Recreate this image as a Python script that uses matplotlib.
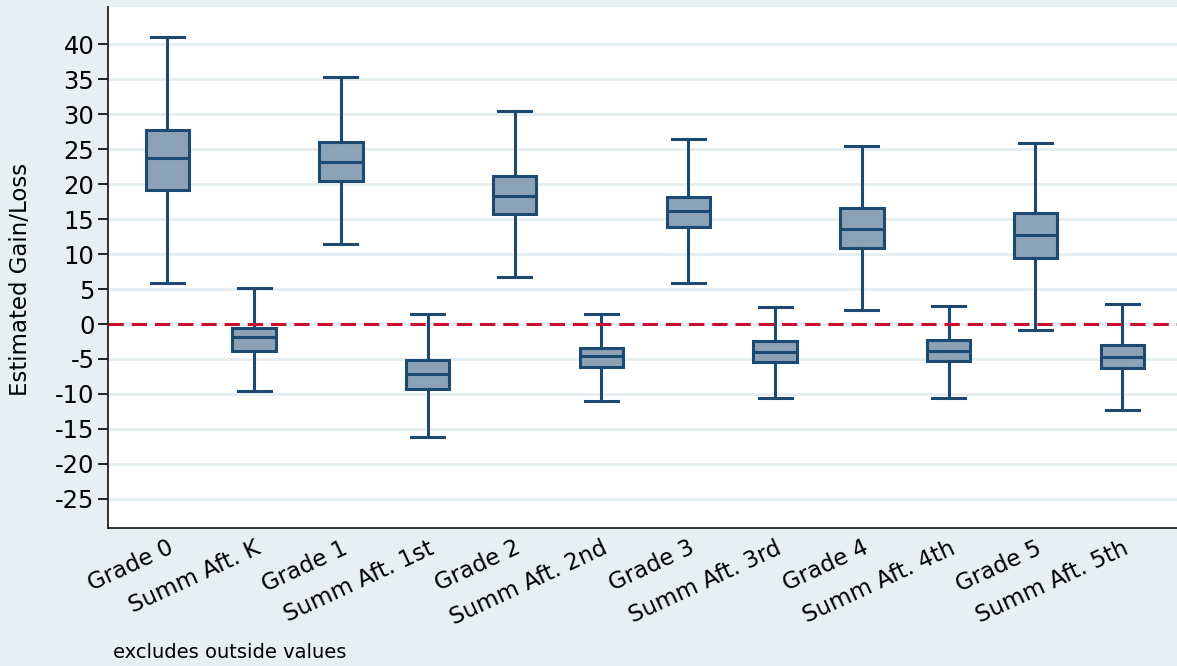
import matplotlib
matplotlib.use("Agg")
import matplotlib.pyplot as plt
import numpy as np

# box plot summaries (whiskers exclude outside values)
labels = ["Grade 0", "Summ Aft. K", "Grade 1", "Summ Aft. 1st", "Grade 2", "Summ Aft. 2nd",
          "Grade 3", "Summ Aft. 3rd", "Grade 4", "Summ Aft. 4th", "Grade 5", "Summ Aft. 5th"]
whis_lo = [5.9, -9.6, 11.5, -16.1, 6.7, -11.0, 5.9, -10.6, 2.0, -10.6, -0.8, -12.3]
q1 = [19.2, -3.9, 20.4, -9.3, 15.8, -6.2, 13.9, -5.4, 10.9, -5.3, 9.4, -6.3]
med = [23.7, -1.9, 23.2, -7.2, 18.3, -4.6, 16.2, -4.0, 13.6, -3.8, 12.7, -4.7]
q3 = [27.8, -0.6, 26.1, -5.2, 21.2, -3.4, 18.2, -2.4, 16.6, -2.3, 15.9, -3.0]
whis_hi = [41.0, 5.2, 35.3, 1.5, 30.5, 1.5, 26.4, 2.5, 25.4, 2.6, 25.9, 2.9]
y_ticks = list(range(-25, 45, 5))

plt.rcParams['font.family'] = ['DejaVu Sans']
plt.rcParams['axes.unicode_minus'] = False

navy = '#1c4a72'
bg = '#e8eff2'

stats = []
for i in range(len(labels)):
    stats.append({'label': labels[i], 'whislo': whis_lo[i], 'q1': q1[i], 'med': med[i],
                  'q3': q3[i], 'whishi': whis_hi[i], 'fliers': []})

fig = plt.figure(figsize=(11.77, 6.66), dpi=100, facecolor=bg)
ax = fig.add_axes([0.092, 0.207, 0.908, 0.783])
ax.set_facecolor('white')

pos = np.arange(len(labels))
ax.bxp(stats, positions=pos, widths=0.5, patch_artist=True, showfliers=False,
       boxprops=dict(facecolor='#8ba2b7', edgecolor=navy, linewidth=2.2),
       medianprops=dict(color=navy, linewidth=2.2),
       whiskerprops=dict(color=navy, linewidth=2.2),
       capprops=dict(color=navy, linewidth=2.2), capwidths=0.38, zorder=3)

ax.axhline(0, color='#c8102e', linewidth=2.2, linestyle=(0, (5, 2.6)), zorder=4)

ax.set_xlim(-0.68, 11.63)
ax.set_ylim(-29.2, 45.4)
ax.set_yticks(y_ticks)
ax.set_yticklabels([str(v) for v in y_ticks], fontsize=17.5)
ax.yaxis.grid(True, color='#e6eef1', linewidth=2)
ax.set_axisbelow(True)
ax.tick_params(axis='y', length=7, width=1.2, pad=3)
ax.tick_params(axis='x', length=0, pad=6)
ax.set_xticks(pos)
ax.set_xticklabels(labels, rotation=25, ha='right', rotation_mode='anchor', fontsize=16.5)

for s in ['top', 'right']:
    ax.spines[s].set_visible(False)
for s in ['left', 'bottom']:
    ax.spines[s].set_color('#222222')
    ax.spines[s].set_linewidth(1.3)

ax.set_ylabel("Estimated Gain/Loss", fontsize=16.5)
ax.yaxis.set_label_coords(-0.071, 0.476)
fig.text(0.096, 0.021, "excludes outside values", fontsize=14, va='center')

fig.savefig("out.png", dpi=100, facecolor=bg)
